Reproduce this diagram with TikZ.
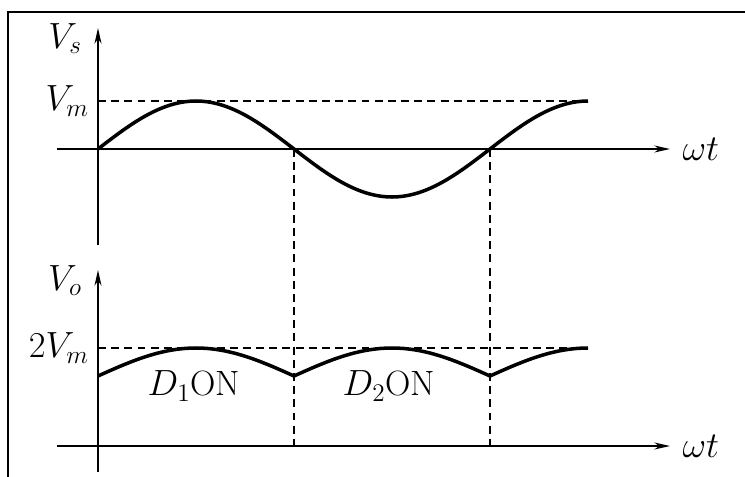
\documentclass[tikz,border=0pt]{standalone}
\usepackage{amsmath}
\usetikzlibrary{arrows.meta,positioning}
\tikzset{
  axisarr/.style={-{Stealth[length=9pt,width=4pt]},line width=0.75pt},
  wave/.style={line width=2pt,line join=round},
  guide/.style={dash pattern=on 4.5pt off 3pt,line width=0.75pt},
  lbl/.style={font=\fontsize{20}{24}\selectfont,inner sep=1pt}
}
\begin{document}
\begin{tikzpicture}[x=0.02cm,y=-0.02cm]
  \useasboundingbox (0,0) rectangle (745,477);
  \draw[line width=1pt] (8,477) -- (8,12) -- (745,12);
  % input voltage
  \coordinate (top1) at (98,28);
  \coordinate (bot1) at (98,245);
  \coordinate (lft1) at (57,149);
  \coordinate (end1) at (670,149);
  \coordinate (vm) at (98,101);
  \coordinate (vmr) at (588,101);
  \draw[axisarr] (bot1) -- (top1);
  \draw[axisarr] (lft1) -- (end1);
  \draw[guide] (vm) -- (vmr);
  \node[lbl,left=8pt of top1,yshift=-6pt] (vs) {$V_s$};
  \node[lbl,left=4pt of vm] (vmlbl) {$V_m$};
  \node[lbl,right=6pt of end1] (wt1) {$\omega t$};
  % output voltage
  \coordinate (top2) at (98,270);
  \coordinate (bot2) at (98,472);
  \coordinate (lft2) at (57,446);
  \coordinate (end2) at (670,446);
  \coordinate (vp) at (98,348);
  \coordinate (vpr) at (588,348);
  \draw[axisarr] (bot2) -- (top2);
  \draw[axisarr] (lft2) -- (end2);
  \draw[guide] (vp) -- (vpr);
  \node[lbl,left=8pt of top2,yshift=-6pt] (vo) {$V_o$};
  \node[lbl,left=4pt of vp] (vplbl) {$2V_m$};
  \node[lbl,right=6pt of end2] (wt2) {$\omega t$};
  % switching instants
  \foreach \k/\px in {a/294,b/490}{
    \coordinate (z\k) at (\px,149);
    \coordinate (c\k) at (\px,446);
    \draw[guide] (z\k) -- (c\k);
  }
  \draw[wave] plot[domain=0:450,samples=91] ({98+\x/180*196},{149-48*sin(\x)});
  \draw[wave] plot[domain=0:450,samples=91] ({98+\x/180*196},{376-28*abs(sin(\x))});
  \node[lbl] (d1) at (194,386) {$D_1$ON};
  \node[lbl] (d2) at (389,386) {$D_2$ON};
\end{tikzpicture}
\end{document}
